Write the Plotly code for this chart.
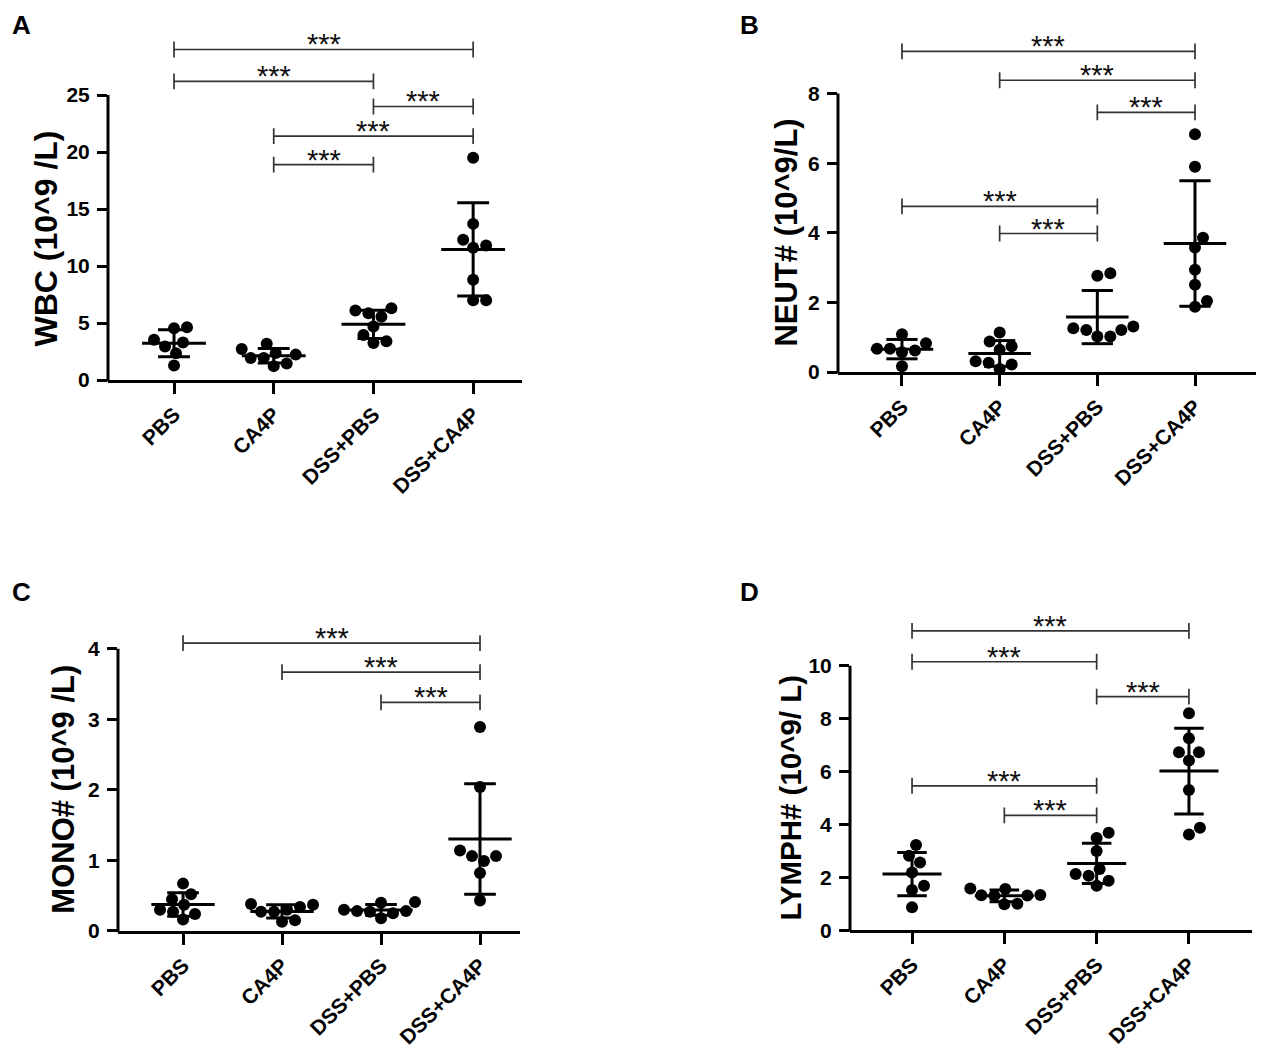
import numpy as np
import plotly.graph_objects as go

# page has an 8px body margin on every side, so the figure is drawn that much smaller
OFF = 8
W, H = 1264 - 2 * OFF, 1059 - 2 * OFF

groups = ["PBS", "CA4P", "DSS+PBS", "DSS+CA4P"]

# WBC (10^9/L)
wbc_pbs = [3.53, 2.95, 3.30, 2.36, 4.54, 4.63, 1.28]
wbc_ca4p = [2.23, 1.94, 1.94, 3.19, 2.37, 2.72, 1.45, 1.22]
wbc_dss_pbs = [5.55, 4.70, 5.85, 6.30, 6.10, 3.95, 3.40, 3.25]
wbc_dss_ca4p = [19.5, 13.7, 12.3, 11.8, 11.6, 8.8, 7.0, 7.0]

# NEUT#
neut_pbs = [0.67, 0.67, 0.62, 1.09, 0.57, 0.83, 0.17]
neut_ca4p = [1.14, 0.88, 0.74, 0.64, 0.31, 0.27, 0.22, 0.09]
neut_dss_pbs = [2.84, 2.77, 1.26, 1.21, 1.21, 1.31, 1.02, 1.02]
neut_dss_ca4p = [6.83, 5.90, 3.58, 3.86, 2.94, 2.51, 2.04, 1.88]

# MONO#
mono_pbs = [0.67, 0.52, 0.45, 0.37, 0.30, 0.27, 0.24, 0.16]
mono_ca4p = [0.30, 0.27, 0.34, 0.38, 0.37, 0.15, 0.13, 0.27]
mono_dss_pbs = [0.28, 0.27, 0.30, 0.41, 0.40, 0.25, 0.28, 0.18]
mono_dss_ca4p = [2.89, 2.04, 1.06, 1.06, 1.14, 0.99, 0.82, 0.43]

# LYMPH#
lymph_pbs = [2.81, 2.56, 3.22, 2.18, 1.68, 1.52, 0.87]
lymph_ca4p = [1.30, 1.31, 1.32, 1.33, 1.58, 1.56, 1.00, 0.98]
lymph_dss_pbs = [3.68, 3.49, 2.99, 2.12, 2.06, 2.31, 1.87, 1.68]
lymph_dss_ca4p = [8.20, 7.26, 6.73, 6.73, 6.42, 5.30, 3.87, 3.62]

# significance brackets: group pairs and bracket heights (data units)
wbc_sig_pairs = [(0, 3), (0, 2), (2, 3), (1, 3), (1, 2)]
wbc_sig_y = [29.0, 26.2, 24.0, 21.4, 18.9]
neut_sig_pairs = [(0, 3), (1, 3), (2, 3), (0, 2), (1, 2)]
neut_sig_y = [9.21, 8.38, 7.46, 4.76, 3.98]
mono_sig_pairs = [(0, 3), (1, 3), (2, 3)]
mono_sig_y = [4.08, 3.67, 3.24]
lymph_sig_pairs = [(0, 3), (0, 2), (2, 3), (0, 2), (1, 2)]
lymph_sig_y = [11.32, 10.15, 8.83, 5.46, 4.34]
sig_label = "***"

wbc_ticks = [0, 5, 10, 15, 20, 25]
neut_ticks = [0, 2, 4, 6, 8]
mono_ticks = [0, 1, 2, 3, 4]
lymph_ticks = [0, 2, 4, 6, 8, 10]

# panel layout in page pixels: plot box (left, right, top, zero line) and x range
panels = [
    dict(letter="A", title="WBC (10^9 /L)", data=[wbc_pbs, wbc_ca4p, wbc_dss_pbs, wbc_dss_ca4p],
         pairs=wbc_sig_pairs, sig_y=wbc_sig_y, ticks=wbc_ticks,
         box=(108, 522, 30, 384), xr=(-0.662, 3.49), ymax=30.73,
         letter_xy=(10, 8), title_xy=(46, 241), title_size=32),
    dict(letter="B", title="NEUT# (10^9/L)", data=[neut_pbs, neut_ca4p, neut_dss_pbs, neut_dss_ca4p],
         pairs=neut_sig_pairs, sig_y=neut_sig_y, ticks=neut_ticks,
         box=(838, 1262, 30, 376), xr=(-0.655, 3.686), ymax=9.83,
         letter_xy=(738, 8), title_xy=(787, 235), title_size=31),
    dict(letter="C", title="MONO# (10^9 /L)", data=[mono_pbs, mono_ca4p, mono_dss_pbs, mono_dss_ca4p],
         pairs=mono_sig_pairs, sig_y=mono_sig_y, ticks=mono_ticks,
         box=(118, 520, 630, 940.7), xr=(-0.657, 3.404), ymax=4.36,
         letter_xy=(10, 581), title_xy=(64, 798), title_size=31),
    dict(letter="D", title="LYMPH# (10^9/ L)", data=[lymph_pbs, lymph_ca4p, lymph_dss_pbs, lymph_dss_ca4p],
         pairs=lymph_sig_pairs, sig_y=lymph_sig_y, ticks=lymph_ticks,
         box=(850, 1252, 615, 940), xr=(-0.672, 3.683), ymax=12.16,
         letter_xy=(738, 581), title_xy=(791, 806), title_size=29.5),
]

FONT = "Liberation Sans, Arial, sans-serif"
DOT = 12


def px_x(px):
    return (px - OFF) / W


def px_y(py):
    return 1 - (py - OFF) / H


def swarm(vals, ppu, d=DOT + 0.5):
    # simple beeswarm: offsets in pixels so that dots don't overlap
    placed = []
    offs = [0.0] * len(vals)
    for i in sorted(range(len(vals)), key=lambda k: vals[k]):
        y = vals[i] * ppu
        for step in range(0, 200):
            ok_dx = None
            for dx in ([0] if step == 0 else [step, -step]):
                if all((dx - px) ** 2 + (y - py) ** 2 >= d * d for px, py in placed):
                    ok_dx = dx
                    break
            if ok_dx is not None:
                break
        placed.append((ok_dx, y))
        offs[i] = ok_dx
    return offs


fig = go.Figure()
layout = dict(width=W, height=H, margin=dict(l=0, r=0, t=0, b=0),
              paper_bgcolor="white", plot_bgcolor="white", showlegend=False,
              font=dict(family=FONT, color="black"))
shapes = []
annotations = []

for k, p in enumerate(panels):
    sfx = "" if k == 0 else str(k + 1)
    xa, ya = "x" + sfx, "y" + sfx
    left, right, top, zero = p["box"]
    xr = p["xr"]
    yr = (0, p["ymax"])
    ppu = (zero - top) / (yr[1] - yr[0])
    ppc = (right - left) / (xr[1] - xr[0])
    dom_x = [px_x(left), min(px_x(right), 1.0)]
    if dom_x[1] == 1.0:
        xr = (xr[0], xr[0] + (W + OFF - left) / ppc)
    dom_y = [px_y(zero), px_y(top)]

    # points
    xs, ys = [], []
    for g, vals in enumerate(p["data"]):
        offs = swarm(vals, ppu)
        xs += [g + o / ppc for o in offs]
        ys += list(vals)
    fig.add_trace(go.Scatter(x=xs, y=ys, xaxis=xa, yaxis=ya, mode="markers",
                             marker=dict(size=DOT, color="black"), cliponaxis=False))

    # mean +/- SD
    ex, ey = [], []
    for g, vals in enumerate(p["data"]):
        m = np.mean(vals)
        s = np.std(vals, ddof=1)
        ex += [g - 0.32, g + 0.32, None, g, g, None, g - 0.16, g + 0.16, None, g - 0.16, g + 0.16, None]
        ey += [m, m, None, m - s, m + s, None, m + s, m + s, None, m - s, m - s, None]
    fig.add_trace(go.Scatter(x=ex, y=ey, xaxis=xa, yaxis=ya, mode="lines",
                             line=dict(color="black", width=3), hoverinfo="skip"))

    # significance brackets
    bx, by = [], []
    tick = 8 / ppu
    for (a, b), h in zip(p["pairs"], p["sig_y"]):
        bx += [a, b, None, a, a, None, b, b, None]
        by += [h, h, None, h - tick, h + tick, None, h - tick, h + tick, None]
        annotations.append(dict(x=(a + b) / 2, y=h, xref=xa, yref=ya, text=sig_label,
                                showarrow=False, yanchor="bottom", yshift=-13,
                                font=dict(size=29, family=FONT, color="#111")))
    fig.add_trace(go.Scatter(x=bx, y=by, xaxis=xa, yaxis=ya, mode="lines",
                             line=dict(color="#333", width=1.7), hoverinfo="skip"))

    layout["xaxis" + sfx] = dict(
        domain=dom_x, range=list(xr), anchor=ya, showgrid=False, zeroline=False,
        showline=True, linewidth=3, linecolor="black",
        ticks="outside", ticklen=11, tickwidth=3, tickcolor="black",
        tickvals=[0, 1, 2, 3], ticktext=groups, tickangle=-45,
        tickfont=dict(size=21, family=FONT, weight="bold", color="black"))
    layout["yaxis" + sfx] = dict(
        domain=dom_y, range=list(yr), anchor=xa, showgrid=False, zeroline=False,
        showline=False, ticks="outside", ticklen=10, tickwidth=3, tickcolor="black",
        tickvals=p["ticks"], ticklabelstandoff=3,
        tickfont=dict(size=21, family=FONT, weight="bold", color="black"))

    # y axis line from 0 to the top tick
    y_top = dom_y[0] + (p["ticks"][-1] - yr[0]) / (yr[1] - yr[0]) * (dom_y[1] - dom_y[0])
    shapes.append(dict(type="line", xref="paper", yref="paper", x0=dom_x[0], x1=dom_x[0],
                       y0=dom_y[0] - 1.5 / H, y1=y_top, line=dict(color="black", width=3)))

    # axis title and panel letter
    tx, ty = p["title_xy"]
    annotations.append(dict(x=px_x(tx), y=px_y(ty), xref="paper", yref="paper", text=p["title"],
                            textangle=-90, showarrow=False, xanchor="center", yanchor="middle",
                            font=dict(size=p["title_size"], family=FONT, weight="bold", color="black")))
    lx, ly = p["letter_xy"]
    annotations.append(dict(x=px_x(lx), y=px_y(ly), xref="paper", yref="paper", text=p["letter"],
                            showarrow=False, xanchor="left", yanchor="top",
                            font=dict(size=26, family=FONT, weight="bold", color="black")))

layout["shapes"] = shapes
layout["annotations"] = annotations
fig.update_layout(**layout)

fig.write_html("out.html")
